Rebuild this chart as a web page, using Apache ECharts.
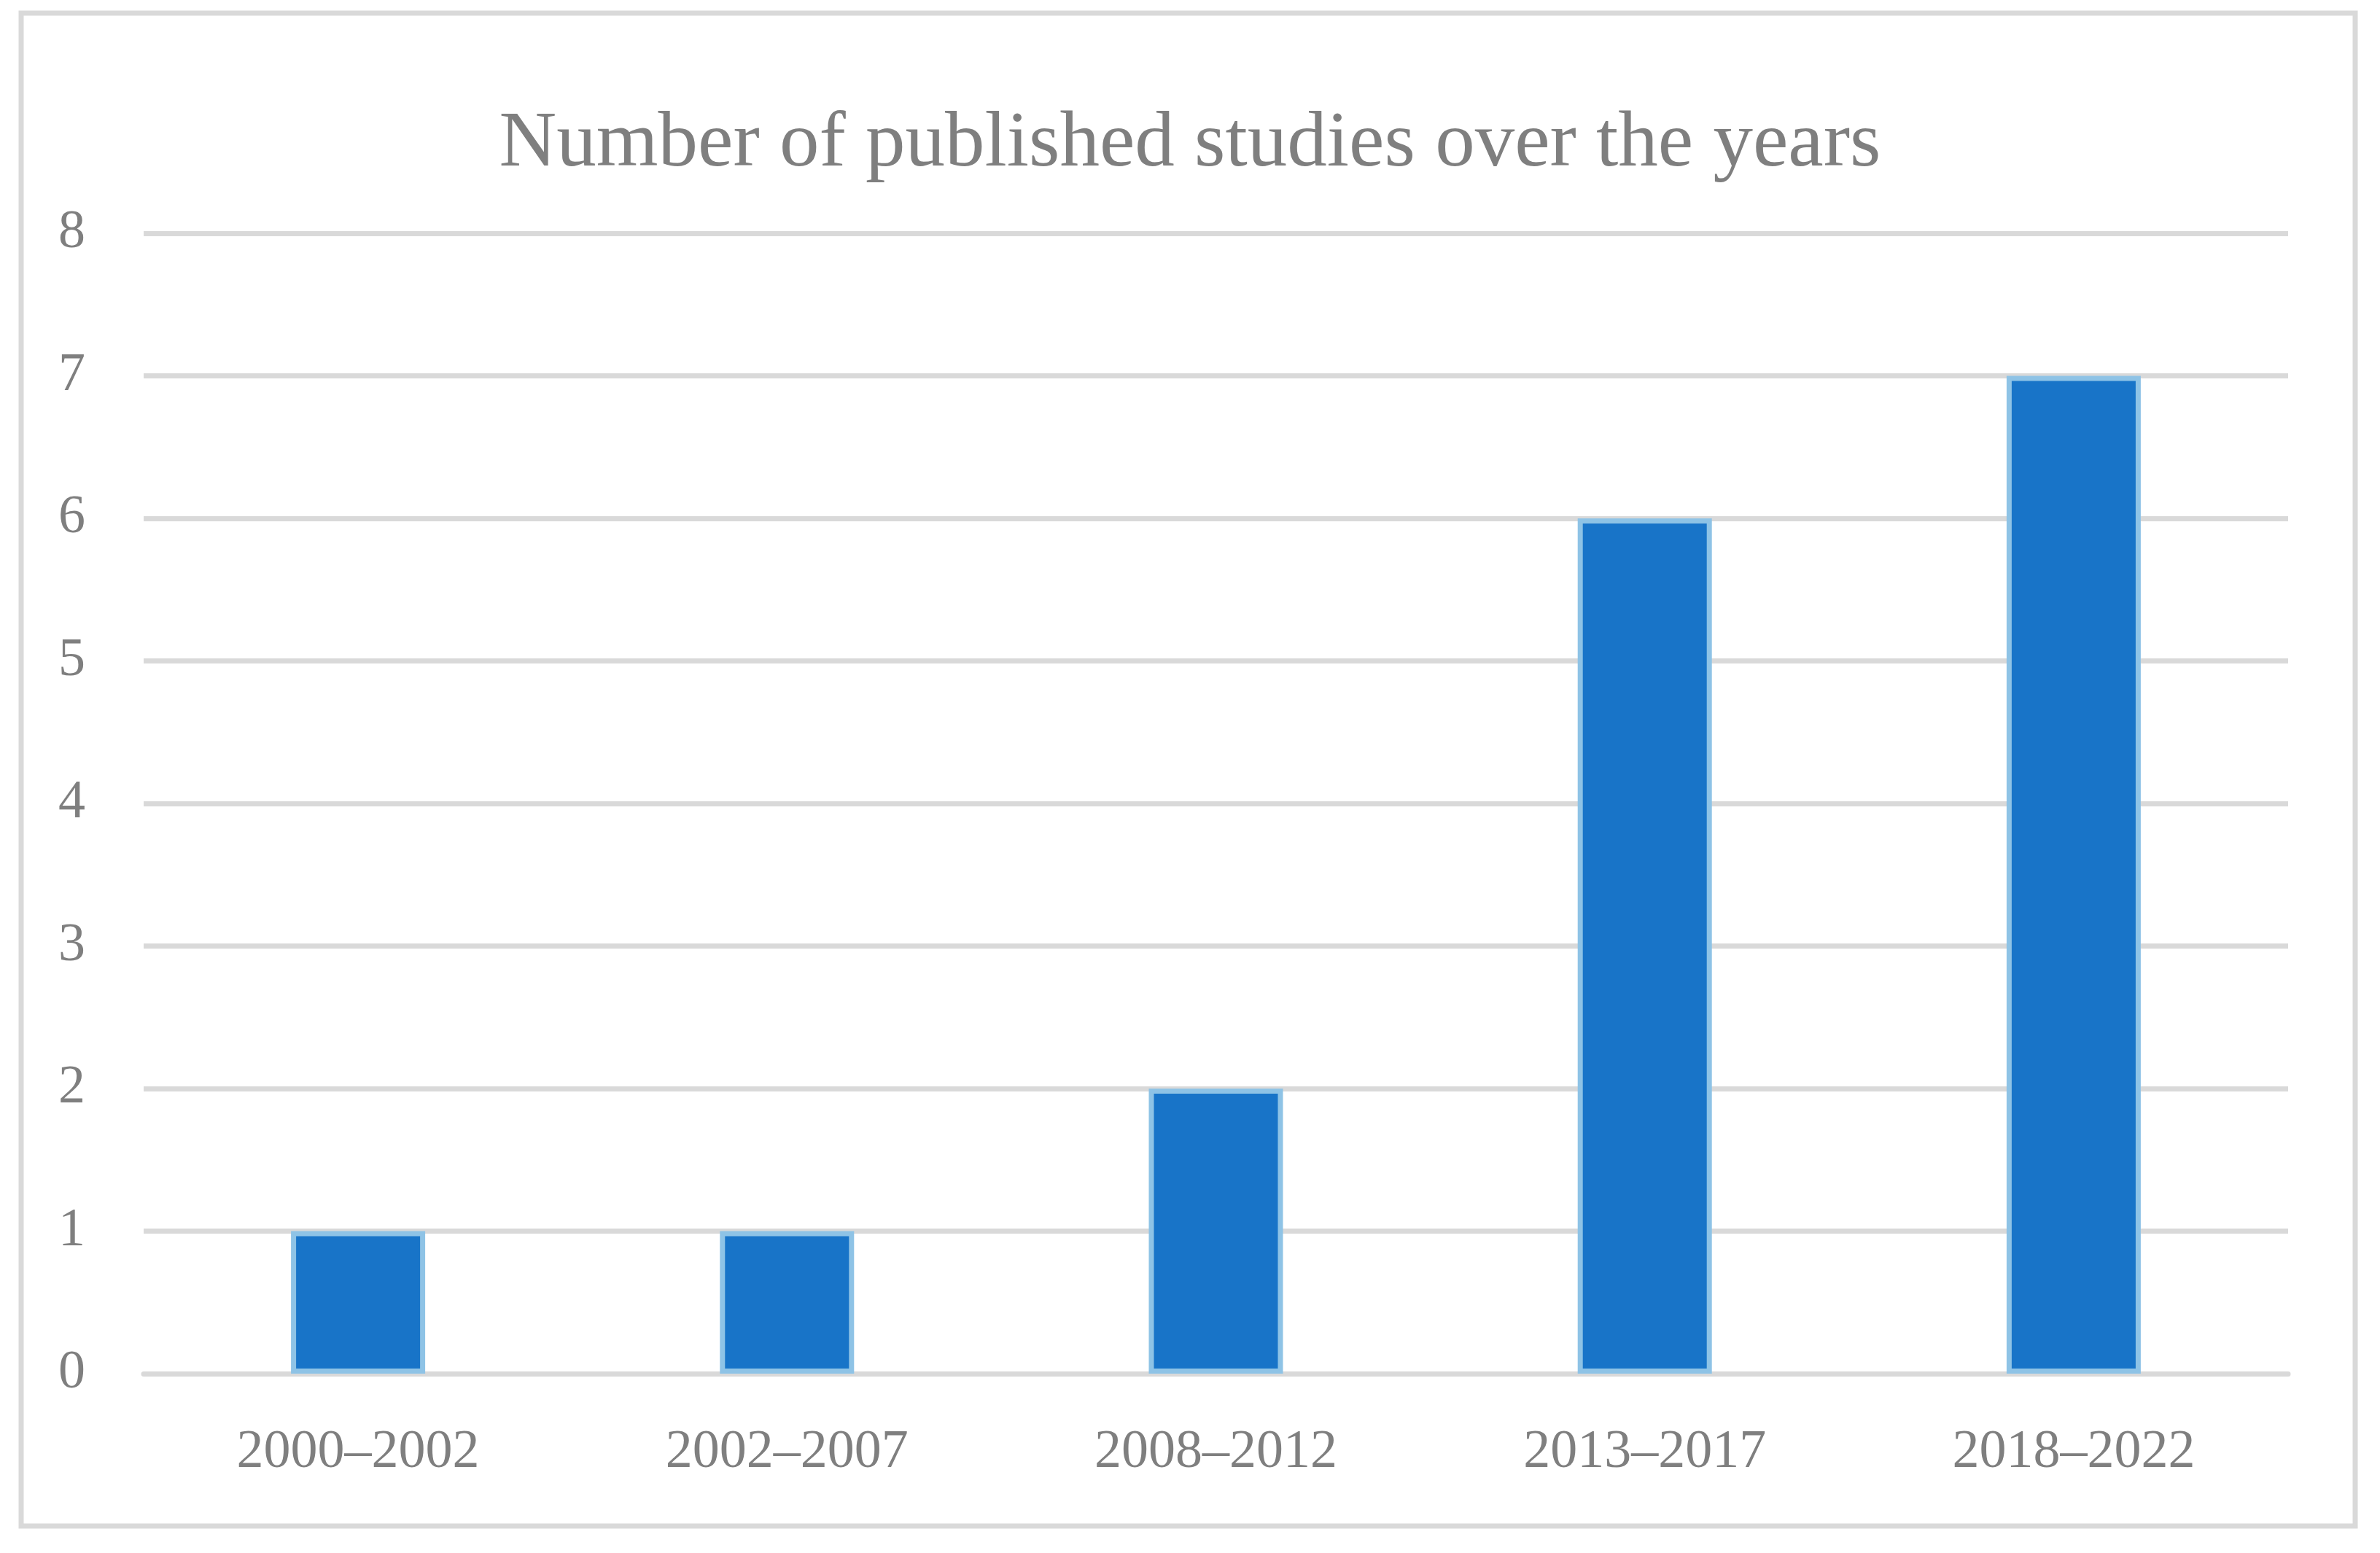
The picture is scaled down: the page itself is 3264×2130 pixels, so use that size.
<!DOCTYPE html>
<html>
<head>
<meta charset="utf-8">
<script src="https://cdn.jsdelivr.net/npm/echarts@6/dist/echarts.min.js"></script>
<style>
html,body{margin:0;padding:0;background:#fff;}
#c{width:3264px;height:2130px;}
</style>
</head>
<body>
<div id="c"></div>
<script>
var categories = ["2000\u20132002", "2002\u20132007", "2008\u20132012", "2013\u20132017", "2018\u20132022"];
var studies = [1, 1, 2, 6, 7];
var titleText = "Number of published studies over the years";

var chart = echarts.init(document.getElementById('c'), null, {renderer: 'canvas'});
var FONT = "'Liberation Serif', 'DejaVu Serif', serif";
chart.setOption({
  backgroundColor: '#ffffff',
  animation: false,
  title: {
    text: titleText,
    left: 'center',
    top: 139,
    textStyle: {fontFamily: FONT, fontSize: 109, fontWeight: 'normal', color: '#7f7f7f'}
  },
  grid: {left: 197, right: 126, top: 320, bottom: 246, containLabel: false},
  xAxis: {
    type: 'category',
    data: categories,
    axisLine: {show: true, lineStyle: {color: '#d9d9d9', width: 7}},
    axisTick: {show: false},
    axisLabel: {fontFamily: FONT, fontSize: 74, color: '#7f7f7f', margin: 72},
    splitLine: {show: false}
  },
  yAxis: {
    type: 'value',
    min: 0, max: 8, interval: 1,
    axisLine: {show: false},
    axisTick: {show: false},
    axisLabel: {fontFamily: FONT, fontSize: 74, color: '#7f7f7f', margin: 80},
    splitLine: {show: true, lineStyle: {color: '#d9d9d9', width: 7}}
  },
  series: [{
    type: 'bar',
    data: studies,
    barWidth: 184,
    itemStyle: {color: '#1874c8', borderColor: '#8ec3e6', borderWidth: 7}
  }],
  graphic: [{
    type: 'rect',
    shape: {x: 29, y: 18, width: 3201, height: 2075},
    style: {fill: null, stroke: '#d9d9d9', lineWidth: 7},
    z: 100
  }]
});
</script>
</body>
</html>
